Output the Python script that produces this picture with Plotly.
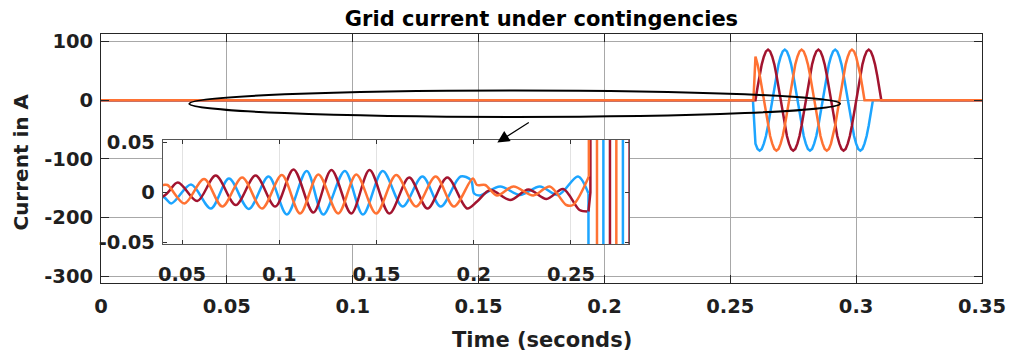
import plotly.graph_objects as go

# ---------------- data ----------------
# small pre-fault currents (s, A) -- peaks / troughs
red_t_small = [0.0, 0.0401, 0.0478, 0.0578, 0.0673, 0.0776, 0.0878, 0.0979, 0.1073, 0.1175,
               0.1268, 0.1370, 0.1464, 0.1566, 0.1668, 0.1762, 0.1864, 0.1966, 0.2017,
               0.2085, 0.2187, 0.2281, 0.2374, 0.2460, 0.2544, 0.2590]
red_v_small = [0.0, -0.004, 0.010, -0.0085, 0.017, -0.0125, 0.017, -0.014, 0.023, -0.020,
               0.0225, -0.021, 0.0225, -0.021, 0.015, -0.016, 0.015, -0.016, -0.009,
               0.0025, -0.0075, 0.003, -0.0065, 0.0035, -0.0175, -0.019]

blue_t_small = [0.0, 0.0401, 0.0444, 0.0546, 0.0648, 0.0741, 0.0843, 0.0945, 0.1039, 0.1141,
                0.1226, 0.1337, 0.1430, 0.1532, 0.1634, 0.1736, 0.1830, 0.1932, 0.1985,
                0.2002, 0.2030, 0.2136, 0.2238, 0.2340, 0.2434, 0.2536, 0.2590]
blue_v_small = [0.0, -0.004, -0.011, 0.008, -0.016, 0.014, -0.0165, 0.016, -0.022, 0.0215,
                -0.022, 0.0215, -0.022, 0.0215, -0.014, 0.016, -0.014, 0.016, 0.0125,
                -0.001, -0.003, 0.006, -0.0025, 0.006, -0.0025, 0.016, -0.001]

orange_t_small = [0.0, 0.0401, 0.0425, 0.0512, 0.0613, 0.0707, 0.0809, 0.0911, 0.1013, 0.1107,
                  0.1201, 0.1303, 0.1396, 0.1498, 0.1601, 0.1703, 0.1804, 0.1898, 0.1995,
                  0.2017, 0.2059, 0.2119, 0.2204, 0.2306, 0.2391, 0.2476, 0.2510, 0.2592]
orange_v_small = [0.0, 0.0075, 0.0075, -0.011, 0.0135, -0.014, 0.015, -0.016, 0.0175, -0.021,
                  0.018, -0.021, 0.018, -0.021, 0.0175, -0.014, 0.016, -0.014, 0.014,
                  0.0075, 0.0075, -0.003, 0.006, -0.003, 0.006, -0.0125, -0.0125, 0.016]

# contingency burst (s, A), read every 1/1200 s from 0.26 s to 0.31 s
t_burst = [0.26000, 0.26083, 0.26167, 0.26250, 0.26333, 0.26417, 0.26500, 0.26583, 0.26667, 0.26750, 0.26833, 0.26917,
           0.27000, 0.27083, 0.27167, 0.27250, 0.27333, 0.27417, 0.27500, 0.27583, 0.27667, 0.27750, 0.27833, 0.27917,
           0.28000, 0.28083, 0.28167, 0.28250, 0.28333, 0.28417, 0.28500, 0.28583, 0.28667, 0.28750, 0.28833, 0.28917,
           0.29000, 0.29083, 0.29167, 0.29250, 0.29333, 0.29417, 0.29500, 0.29583, 0.29667, 0.29750, 0.29833, 0.29917,
           0.30000, 0.30083, 0.30167, 0.30250, 0.30333, 0.30417, 0.30500, 0.30583, 0.30667, 0.30750, 0.30833, 0.30917,
           0.31000]
red_burst = [0, 22, 43, 61, 74, 83, 86, 83, 74, 61, 43, 22,
             0, -22, -43, -61, -74, -83, -86, -83, -74, -61, -43, -22,
             0, 22, 43, 61, 74, 83, 86, 83, 74, 61, 43, 22,
             0, -22, -43, -61, -74, -83, -86, -83, -74, -61, -43, -22,
             0, 22, 43, 61, 74, 83, 86, 83, 74, 61, 43, 22,
             0]
blue_burst = [-74, -83, -86, -83, -74, -61, -43, -22, 0, 22, 43, 61,
              74, 83, 86, 83, 74, 61, 43, 22, 0, -22, -43, -61,
              -74, -83, -86, -83, -74, -61, -43, -22, 0, 22, 43, 61,
              74, 83, 86, 83, 74, 61, 43, 22, 0, -22, -43, -61,
              -74, -83, -86, -83, -74, -61, -43, -22, 0, 0, 0, 0,
              0]
orange_burst = [74, 61, 43, 22, 0, -22, -43, -61, -74, -83, -86, -83,
                -74, -61, -43, -22, 0, 22, 43, 61, 74, 83, 86, 83,
                74, 61, 43, 22, 0, -22, -43, -61, -74, -83, -86, -83,
                -74, -61, -43, -22, 0, 22, 43, 61, 74, 83, 86, 83,
                74, 61, 43, 22, 0, 0, 0, 0, 0, 0, 0, 0,
                0]
t_end = [0.35]
v_end = [0]

x_ticks = [0, 0.05, 0.1, 0.15, 0.2, 0.25, 0.3, 0.35]
x_ticktext = ["0", "0.05", "0.1", "0.15", "0.2", "0.25", "0.3", "0.35"]
y_ticks = [-300, -200, -100, 0, 100]
y_ticktext = ["-300", "-200", "-100", "0", "100"]
ix_ticks = [0.05, 0.1, 0.15, 0.2, 0.25]
ix_ticktext = ["0.05", "0.1", "0.15", "0.2", "0.25"]
iy_ticks = [-0.05, 0, 0.05]
iy_ticktext = ["-0.05", "0", "0.05"]

# ---------------- styling ----------------
FONT = "DejaVu Sans"
TXT = "#1f1f1f"
C_BLUE = "#1DA5FF"
C_RED = "#A2142F"
C_ORANGE = "#FF7233"

series = [
    (blue_t_small, blue_v_small, blue_burst, C_BLUE),
    (red_t_small, red_v_small, red_burst, C_RED),
    (orange_t_small, orange_v_small, orange_burst, C_ORANGE),
]

fig = go.Figure()
# main axes: complete record
for ts, vs, vb, col in series:
    fig.add_trace(go.Scatter(
        x=ts + t_burst + t_end, y=vs + vb + v_end, xaxis="x", yaxis="y", mode="lines",
        line=dict(color=col, width=2.5), showlegend=False, hoverinfo="skip"))
# inset: smooth small-signal part
for ts, vs, vb, col in series:
    fig.add_trace(go.Scatter(
        x=ts, y=vs, xaxis="x2", yaxis="y2", mode="lines",
        line=dict(color=col, width=2.5, shape="spline", smoothing=0.9),
        showlegend=False, hoverinfo="skip"))
# inset: burst part (off scale -> vertical strokes)
for ts, vs, vb, col in series:
    fig.add_trace(go.Scatter(
        x=ts[-1:] + t_burst, y=vs[-1:] + vb, xaxis="x2", yaxis="y2", mode="lines",
        line=dict(color=col, width=2.5), showlegend=False, hoverinfo="skip"))

tickfont = dict(family=FONT, size=19.5, color=TXT, weight="bold")

fig.update_layout(
    width=1018, height=358,
    margin=dict(l=101, r=30, t=34, b=75),
    paper_bgcolor="white", plot_bgcolor="white",
    title=dict(text="Grid current under contingencies", x=0.5, xref="paper",
               xanchor="center", y=1 - 19 / 358, yref="container", yanchor="middle",
               font=dict(family=FONT, size=21, color="black", weight="bold")),
    xaxis=dict(domain=[0, 1], range=[0, 0.35], tickvals=x_ticks, ticktext=x_ticktext,
               showgrid=True, gridcolor="#a8a8a8", gridwidth=1, zeroline=False,
               ticks="inside", ticklen=8, tickcolor="#262626", showline=True,
               linecolor="#262626", linewidth=1, mirror="ticks", tickfont=tickfont,
               ticklabelstandoff=6),
    yaxis=dict(domain=[0, 1], range=[-311.2, 112.6], tickvals=y_ticks, ticktext=y_ticktext,
               showgrid=True, gridcolor="#a8a8a8", gridwidth=1, zeroline=False,
               ticks="inside", ticklen=8, tickcolor="#262626", showline=True,
               linecolor="#262626", linewidth=1, mirror="ticks", tickfont=tickfont,
               ticklabelstandoff=3),
    xaxis2=dict(domain=[0.0702, 0.599], anchor="y2", range=[0.0401, 0.2797],
                tickvals=ix_ticks, ticktext=ix_ticktext, showgrid=True,
                gridcolor="#e2e2e2", gridwidth=1, zeroline=False, ticks="inside",
                ticklen=4, tickcolor="#333333", showline=True, linecolor="#555555",
                linewidth=1, mirror="ticks", tickfont=tickfont, ticklabelstandoff=12),
    yaxis2=dict(domain=[0.1554, 0.5743], anchor="x2", range=[-0.0518, 0.0525],
                tickvals=iy_ticks, ticktext=iy_ticktext, showgrid=False, zeroline=False,
                ticks="inside", ticklen=4, tickcolor="#333333", showline=True,
                linecolor="#555555", linewidth=1, mirror="ticks", tickfont=tickfont,
                ticklabelstandoff=3),
    shapes=[
        dict(type="rect", xref="x2", yref="y2", x0=0.0, x1=0.4, y0=-1, y1=1,
             fillcolor="white", line=dict(width=0), layer="below"),
        dict(type="circle", xref="x", yref="y", x0=0.0351, x1=0.2936, y0=-28.7, y1=16.6,
             line=dict(color="black", width=2), layer="above"),
    ],
    annotations=[
        dict(text="Current in A", textangle=-90, xref="paper", yref="paper",
             x=(20 - 101) / 887, y=(283 - 162) / 249, xanchor="center", yanchor="middle",
             showarrow=False, font=dict(family=FONT, size=20, color=TXT, weight="bold")),
        dict(text="Time (seconds)", xref="paper", yref="paper", x=0.5,
             y=(283 - 340) / 249, xanchor="center", yanchor="middle", showarrow=False,
             font=dict(family=FONT, size=21, color=TXT, weight="bold")),
        dict(text="", xref="paper", yref="paper", x=(500 - 101) / 887,
             y=(283 - 142.5) / 249, showarrow=True, ax=33, ay=-21, arrowhead=2,
             arrowsize=2, arrowwidth=1.2, arrowcolor="black"),
    ],
)

fig.write_html("out.html")
